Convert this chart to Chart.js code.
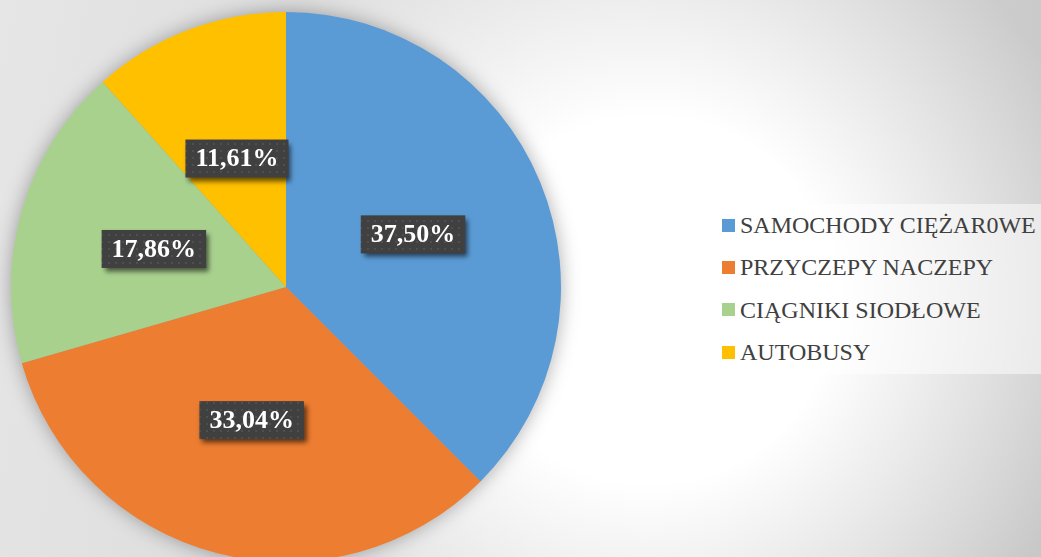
<!DOCTYPE html>
<html lang="pl">
<head>
<meta charset="UTF-8">
<title>Struktura pojazdów</title>
<script src="https://cdn.jsdelivr.net/npm/chart.js"></script>
<style>
  html, body { margin: 0; padding: 0; }
  body {
    width: 1041px; height: 557px; overflow: hidden; position: relative;
    background:
      radial-gradient(circle 460px at 650px 300px, #fff 0%, #fff 40%, rgba(255,255,255,0) 100%),
      linear-gradient(100deg, #e6e6e6, #c8c8c8);
  }
  #wrap { position: absolute; left: 0; top: 0; }
  #legend {
    position: absolute; left: 711px; top: 204px; width: 330px; height: 170px;
    background: rgba(255,255,255,0.5);
  }
  .item {
    display: flex; align-items: center; height: 42.3px; padding-left: 11px;
    font-family: "Liberation Serif", "Times New Roman", serif; font-size: 24px;
    line-height: 1; color: #404040; white-space: nowrap;
  }
  .item .box { width: 13px; height: 13px; margin-right: 5px; flex: none; }
</style>
</head>
<body>
<div id="wrap"><canvas id="pie" width="600" height="575"></canvas></div>
<div id="legend"></div>

<script>
// dane
const categories = ['SAMOCHODY CIĘŻAR0WE', 'PRZYCZEPY NACZEPY', 'CIĄGNIKI SIODŁOWE', 'AUTOBUSY'];
const shares = [37.50, 33.04, 17.86, 11.61];
const colors = ['#5B9BD5', '#ED7D31', '#A9D18E', '#FFC000'];

// legenda w HTML
const legendEl = document.getElementById('legend');
categories.forEach((name, i) => {
  const row = document.createElement('div');
  row.className = 'item';
  row.innerHTML = '<span class="box" style="background:' + colors[i] + '"></span><span>' + name + '</span>';
  legendEl.appendChild(row);
});

// kropkowany wzór na etykiety
const dotCanvas = document.createElement('canvas');
dotCanvas.width = 7; dotCanvas.height = 7;
const dctx = dotCanvas.getContext('2d');
dctx.fillStyle = 'rgba(255,255,255,0.08)';
dctx.fillRect(3, 3, 2, 2);

const pieShadow = {
  id: 'pieShadow',
  beforeDatasetsDraw(chart) {
    const arc = chart.getDatasetMeta(0).data[0];
    if (!arc) return;
    const ctx = chart.ctx;
    ctx.save();
    ctx.shadowColor = 'rgba(0,0,0,0.35)';
    ctx.shadowBlur = 20;
    ctx.fillStyle = '#999';
    ctx.beginPath();
    ctx.arc(arc.x, arc.y, arc.outerRadius - 1, 0, Math.PI * 2);
    ctx.fill();
    ctx.restore();
  }
};

const boxLabels = {
  id: 'boxLabels',
  afterDatasetsDraw(chart) {
    const ctx = chart.ctx;
    const dots = ctx.createPattern(dotCanvas, 'repeat');
    ctx.save();
    ctx.font = 'bold 26px "Liberation Serif", "Times New Roman", serif';
    chart.getDatasetMeta(0).data.forEach((arc, i) => {
      const txt = shares[i].toFixed(2).replace('.', ',') + '%';
      const p = arc.tooltipPosition();
      const w = ctx.measureText(txt).width + 20;
      const h = 38;
      const x = p.x - w / 2, y = p.y - h / 2;
      ctx.save();
      ctx.shadowColor = 'rgba(0,0,0,0.6)';
      ctx.shadowBlur = 5;
      ctx.shadowOffsetX = 3;
      ctx.shadowOffsetY = 4;
      ctx.fillStyle = '#404040';
      ctx.fillRect(x, y, w, h);
      ctx.restore();
      ctx.fillStyle = dots;
      ctx.fillRect(x, y, w, h);
      ctx.fillStyle = '#fff';
      ctx.textAlign = 'center';
      ctx.textBaseline = 'middle';
      ctx.fillText(txt, p.x, p.y + 1);
    });
    ctx.restore();
  }
};

new Chart(document.getElementById('pie'), {
  type: 'pie',
  data: {
    labels: categories,
    datasets: [{
      data: shares,
      backgroundColor: colors,
      borderWidth: 0
    }]
  },
  options: {
    responsive: false,
    animation: false,
    layout: { padding: { top: 12, bottom: 13, left: 0, right: 28 } },
    plugins: {
      legend: { display: false },
      tooltip: { enabled: false }
    }
  },
  plugins: [pieShadow, boxLabels]
});
</script>
</body>
</html>
